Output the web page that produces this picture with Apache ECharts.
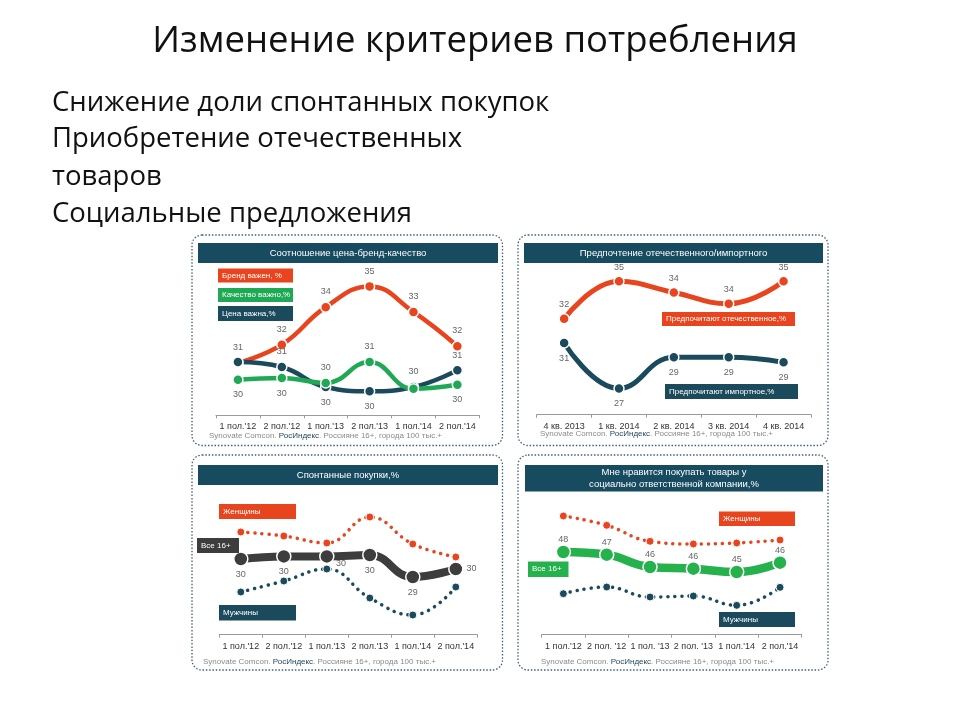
<!DOCTYPE html>
<html><head><meta charset="utf-8">
<script src="https://cdn.jsdelivr.net/npm/echarts@6/dist/echarts.min.js"></script>
<style>html,body{margin:0;padding:0;background:#fff}#c{width:960px;height:720px}</style>
</head><body><div id="c"></div>
<script>
// ---------- DATA ----------
const halfYears = ["1 пол.'12", "2 пол.'12", "1 пол.'13", "2 пол.'13", "1 пол.'14", "2 пол.'14"];
const halfYears4 = ["1 пол.'12", "2 пол. '12", "1 пол. '13", "2 пол. '13", "1 пол.'14", "2 пол.'14"];
const quarters = ["4 кв. 2013", "1 кв. 2014", "2 кв. 2014", "3 кв. 2014", "4 кв. 2014"];

// Panel 1: price-brand-quality
const brandVals = [31.0, 31.95, 33.9, 34.98, 33.65, 31.87];
const brandLbl  = ["31", "32", "34", "35", "33", "32"];
const qualVals  = [30.13, 30.22, 29.96, 31.05, 29.66, 29.87];
const qualLbl   = ["30", "30", "30", "31", "", "30"];
const priceVals = [31.05, 30.79, 29.75, 29.53, 29.75, 30.62];
const priceLbl  = ["", "31", "30", "30", "30", "31"];

// Panel 2: domestic vs import
const domVals = [32.0, 35.0, 34.1, 33.2, 35.0];
const domLbl  = ["32", "35", "34", "34", "35"];
const impVals = [30.05, 26.4, 28.9, 28.9, 28.5];
const impLbl  = ["31", "27", "29", "29", "29"];

// Panel 3: spontaneous purchases
const spWomen = [31.25, 31.05, 30.7, 32.0, 30.65, 30.0];
const spAll   = [29.9, 30.03, 30.03, 30.1, 29.0, 29.4];
const spAllLbl = ["30", "30", "30", "30", "29", "30"];
const spMen   = [28.25, 28.8, 29.4, 27.95, 27.1, 28.5];

// Panel 4: socially responsible company
const soWomen = [53.4, 52.0, 49.6, 49.2, 49.35, 49.8];
const soAll   = [48.0, 47.6, 45.75, 45.5, 45.0, 46.4];
const soAllLbl = ["48", "47", "46", "46", "45", "46"];
const soMen   = [41.75, 42.75, 41.25, 41.4, 40.0, 42.7];

// ---------- STYLE ----------
const ORANGE = '#e8441e', GREEN = '#1fa955', TEAL = '#1b4a5c', HEAD = '#174b5f', GRAY = '#3d3d3d', GREEN4 = '#25b14c';
const FONT = 'Liberation Sans, Arial, sans-serif';
const SLIDE_FONT = '"Open Sans", "Noto Sans", sans-serif';

const chart = echarts.init(document.getElementById('c'), null, {renderer: 'canvas'});

const grids = [
  {left: 216, right: 480.7, top: 266.75, bottom: 304.7},
  {left: 536.7, right: 149, top: 256.4, bottom: 305.3},
  {left: 219.3, right: 482.7, top: 497, bottom: 85.3},
  {left: 541.7, right: 158.3, top: 505.3, bottom: 85.3}
];
const yr = [[28.28, 36], [24.3, 37], [26.115, 33], [35.6, 55]];
const cats = [halfYears, quarters, halfYears, halfYears4];

const xAxes = cats.map((c, i) => ({
  type: 'category', gridIndex: i, data: c, boundaryGap: true,
  axisLine: {lineStyle: {color: '#9a9a9a', width: 1}},
  axisTick: {show: true, length: 3, lineStyle: {color: '#9a9a9a'}},
  axisLabel: {color: '#333', fontSize: 9, fontFamily: FONT, margin: 7, interval: 0}
}));
const yAxes = yr.map((r, i) => ({
  type: 'value', gridIndex: i, min: r[0], max: r[1], show: false, splitLine: {show: false}
}));

function items(vals, lbls, pos) {
  return vals.map((v, i) => {
    const o = {value: v};
    if (lbls) {
      const t = lbls[i];
      o.label = t === '' ? {show: false} : {show: true, formatter: t, position: pos ? pos[i] : 'top'};
    }
    return o;
  });
}

function solid(idx, vals, lbls, pos, color, w, sym, dist) {
  return {
    type: 'line', xAxisIndex: idx, yAxisIndex: idx, data: items(vals, lbls, pos),
    smooth: 0.45, symbol: 'circle', symbolSize: sym,
    lineStyle: {color: color, width: w}, itemStyle: {color: color, borderColor: '#fff', borderWidth: 1.5},
    label: {show: !!lbls, color: '#666', fontSize: 9, fontFamily: FONT, distance: dist},
    silent: true, animation: false, z: 3
  };
}
function dotted(idx, vals, color) {
  return {
    type: 'line', xAxisIndex: idx, yAxisIndex: idx, data: vals,
    smooth: 0.45, symbol: 'circle', symbolSize: 8,
    lineStyle: {color: color, width: 3.5, type: [0.1, 7], cap: 'round'},
    itemStyle: {color: color, borderColor: '#fff', borderWidth: 1},
    silent: true, animation: false, z: 2
  };
}

const series = [
  solid(0, brandVals, brandLbl, null, ORANGE, 4.5, 10, 5),
  solid(0, priceVals, priceLbl, ['top','top','bottom','bottom','top','top'], TEAL, 4.5, 10, 5),
  solid(0, qualVals, qualLbl, ['bottom','bottom','top','top','top','bottom'], GREEN, 4.5, 10, 5),
  solid(1, domVals, domLbl, null, ORANGE, 5, 10, 4),
  solid(1, impVals, impLbl, ['bottom','bottom','bottom','bottom','bottom'], TEAL, 5, 10, 5),
  dotted(2, spWomen, ORANGE),
  dotted(2, spMen, TEAL),
  solid(2, spAll, spAllLbl, ['bottom','bottom',[17, 10],'bottom','bottom','right'], GRAY, 8, 14, 3),
  dotted(3, soWomen, ORANGE),
  dotted(3, soMen, TEAL),
  solid(3, soAll, soAllLbl, null, GREEN4, 8.5, 14, 0)
];

// ---------- GRAPHICS ----------
const g = [];
function text(x, y, t, font, color, opts) {
  g.push(Object.assign({type: 'text', x: x, y: y, silent: true, z: 5,
    style: Object.assign({text: t, fill: color, font: font, textVerticalAlign: 'middle'}, opts || {})}));
}
function box(x, y, w, h, fill, t) {
  g.push({type: 'rect', silent: true, z: 4, shape: {x: x, y: y, width: w, height: h}, style: {fill: fill}});
  if (t) text(x + 4, y + h / 2, t, '8px ' + FONT, '#fff');
}
function panel(x, y, w, h) {
  g.push({type: 'rect', silent: true, z: 0, shape: {x: x, y: y, width: w, height: h, r: 10},
    style: {fill: '#fff', stroke: '#3e5f7e', lineWidth: 1.3, lineDash: [1.5, 1.8]}});
}
function header(x, y, w, h, t) {
  g.push({type: 'rect', silent: true, z: 1, shape: {x: x, y: y, width: w, height: h}, style: {fill: HEAD}});
  g.push({type: 'text', silent: true, z: 5, x: x + w / 2, y: y + h / 2,
    style: {text: t, fill: '#fff', font: '9.5px ' + FONT, textAlign: 'center', textVerticalAlign: 'middle', lineHeight: 12}});
}
function source(x, y) {
  g.push({type: 'text', silent: true, z: 5, x: x, y: y, style: {
    rich: {a: {fill: '#8a8a8a', font: '8px ' + FONT}, u: {fill: '#1b3f5c', font: '8px ' + FONT}},
    text: '{a|Synovate Comcon. }{u|РосИндекс}{a|. Россияне 16+, города 100 тыс.+}', textVerticalAlign: 'middle'}});
}

// Slide title and bullets
text(475, 42, 'Изменение критериев потребления', '36.5px ' + SLIDE_FONT, '#111', {textAlign: 'center'});
const bullets = ['Снижение доли спонтанных покупок', 'Приобретение отечественных', 'товаров', 'Социальные предложения'];
const by = [103, 139, 177, 214];
bullets.forEach((b, i) => text(52, by[i], b, '27.5px ' + SLIDE_FONT, '#111'));

// Panels
panel(192, 235, 310.5, 210.5);
panel(518, 235, 310, 210.5);
panel(192, 455, 310.5, 215);
panel(518, 455, 310, 215);

header(198, 243, 300, 20, 'Соотношение цена-бренд-качество');
header(524, 243, 299, 20, 'Предпочтение отечественного/импортного');
header(198, 465, 300, 20, 'Спонтанные покупки,%');
header(525, 465, 298, 26.5, 'Мне нравится покупать товары у\nсоциально ответственной компании,%');

box(218, 268.5, 75, 14, ORANGE, 'Бренд важен, %');
box(218, 288, 75, 14, GREEN, 'Качество важно,%');
box(218, 306, 75, 15, TEAL, 'Цена важна,%');

box(662, 312, 133, 14, ORANGE, 'Предпочитают отечественное,%');
box(665, 384, 133, 15, TEAL, 'Предпочитают импортное,%');

box(219, 504, 77, 15, ORANGE, 'Женщины');
box(197, 538, 42, 15, GRAY, 'Все 16+');
box(219, 605, 77, 15.5, TEAL, 'Мужчины');

box(719, 511.5, 76, 14.5, ORANGE, 'Женщины');
box(528, 561.5, 40.5, 15.5, GREEN4, 'Все 16+');
box(719, 612, 76, 15, TEAL, 'Мужчины');

source(209, 436);
source(540, 434);
source(203, 662);
source(541, 662);

chart.setOption({
  animation: false,
  grid: grids,
  xAxis: xAxes,
  yAxis: yAxes,
  series: series,
  graphic: g
});
</script></body></html>
